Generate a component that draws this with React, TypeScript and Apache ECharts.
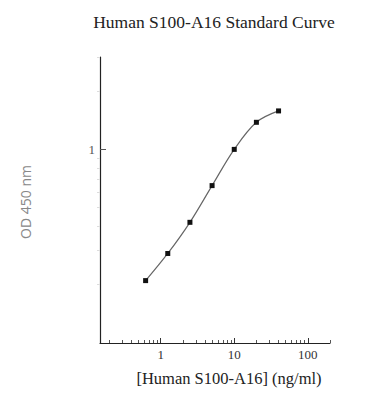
import React, { useEffect, useRef } from "react";
import * as echarts from "echarts";

const concentrations = [0.625, 1.25, 2.5, 5, 10, 20, 40];
const odValues = [0.21, 0.29, 0.42, 0.65, 1.0, 1.38, 1.58];
const xMajorTicks = [1, 10, 100];
const xMinorTicks = [0.2, 0.3, 0.4, 0.5, 0.6, 0.7, 0.8, 0.9, 2, 3, 4, 5, 6, 7, 8, 9, 20, 30, 40, 50, 60, 70, 80, 90, 200];
const yMajorTicks = [1];
const yMinorTicks = [0.2, 0.3, 0.4, 0.5, 0.6, 0.7, 0.8, 0.9, 2, 3];
const xRange = [0.15, 200];
const yRange = [0.1, 3];

const titleText = "Human S100-A16 Standard Curve";
const xName = "[Human S100-A16] (ng/ml)";
const yName = "OD 450 nm";

const lg = (v: number) => Math.log10(v);
const SERIF = "'Liberation Serif', 'Times New Roman', serif";
const SANS = "'Open Sans', 'DejaVu Sans', sans-serif";

export default function App() {
  const ref = useRef<HTMLDivElement>(null);
  useEffect(() => {
    if (!ref.current) return;
    const chart = echarts.init(ref.current, undefined, { renderer: "svg" });
    const fmt = (v: number) => {
      const r = Math.pow(10, v);
      return String(Math.round(r * 1000) / 1000);
    };
    const baseX = {
      type: "value" as const,
      min: lg(xRange[0]),
      max: lg(xRange[1]),
      position: "bottom" as const,
      splitLine: { show: false },
    };
    const baseY = {
      type: "value" as const,
      min: lg(yRange[0]),
      max: lg(yRange[1]),
      position: "left" as const,
      splitLine: { show: false },
    };
    chart.setOption({
      animation: false,
      backgroundColor: "#ffffff",
      grid: { left: 100, right: 40, top: 57, bottom: 57 },
      graphic: [
        {
          type: "text",
          x: 214,
          y: 22,
          style: {
            text: titleText,
            font: `17.5px ${SERIF}`,
            fill: "#222",
            textAlign: "center",
            textVerticalAlign: "middle",
          },
        },
        {
          type: "text",
          x: 229,
          y: 378,
          style: {
            text: xName,
            font: `16.5px ${SERIF}`,
            fill: "#222",
            textAlign: "center",
            textVerticalAlign: "middle",
          },
        },
        {
          type: "text",
          x: 25,
          y: 202,
          rotation: Math.PI / 2,
          style: {
            text: yName,
            font: `14px ${SANS}`,
            fill: "#888",
            textAlign: "center",
            textVerticalAlign: "middle",
          },
        },
      ],
      xAxis: [
        {
          ...baseX,
          axisLine: { show: true, onZero: false, lineStyle: { color: "#222", width: 1.2 } },
          axisTick: {
            show: true,
            inside: true,
            length: 5,
            customValues: xMajorTicks.map(lg),
            lineStyle: { color: "#333" },
          },
          axisLabel: {
            show: true,
            customValues: xMajorTicks.map(lg),
            formatter: fmt,
            color: "#333",
            fontFamily: SERIF,
            fontSize: 13,
            margin: 5,
          },
        },
        {
          ...baseX,
          axisLine: { show: false, onZero: false },
          axisTick: {
            show: true,
            inside: true,
            length: 3,
            customValues: xMinorTicks.map(lg),
            lineStyle: { color: "#555" },
          },
          axisLabel: { show: false },
        },
      ],
      yAxis: [
        {
          ...baseY,
          axisLine: { show: true, onZero: false, lineStyle: { color: "#222", width: 1.2 } },
          axisTick: {
            show: true,
            inside: true,
            length: 6,
            customValues: yMajorTicks.map(lg),
            lineStyle: { color: "#555" },
          },
          axisLabel: {
            show: true,
            customValues: yMajorTicks.map(lg),
            formatter: fmt,
            color: "#555",
            fontFamily: SERIF,
            fontSize: 13,
            margin: 5,
          },
        },
        {
          ...baseY,
          axisLine: { show: false, onZero: false },
          axisTick: {
            show: true,
            inside: false,
            length: 3,
            customValues: yMinorTicks.map(lg),
            lineStyle: { color: "#ddd" },
          },
          axisLabel: { show: false },
        },
      ],
      series: [
        {
          type: "line",
          xAxisIndex: 0,
          yAxisIndex: 0,
          smooth: 0.35,
          data: concentrations.map((c, i) => [lg(c), lg(odValues[i])]),
          symbol: "rect",
          symbolSize: 5,
          itemStyle: { color: "#111" },
          lineStyle: { color: "#666", width: 1.2 },
        },
      ],
    });
    return () => chart.dispose();
  }, []);
  return <div ref={ref} style={{ width: 370, height: 400, margin: -8 }} />;
}
